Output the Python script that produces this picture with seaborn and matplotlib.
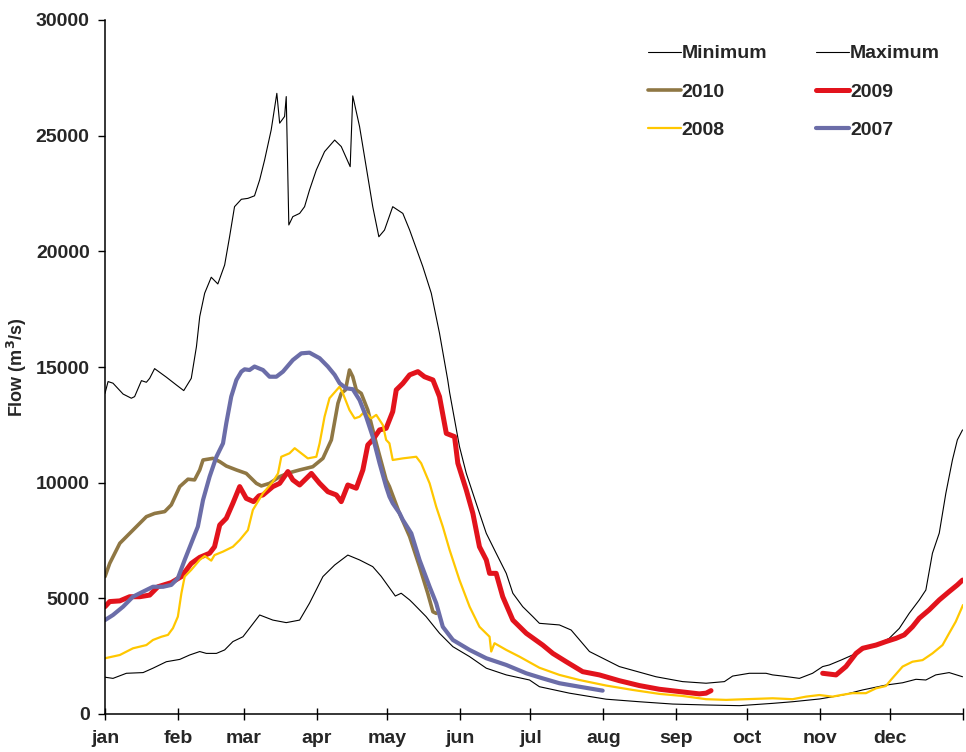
import matplotlib
matplotlib.use("Agg")
import matplotlib.pyplot as plt
from matplotlib.lines import Line2D
import pandas as pd
import seaborn as sns

# Month axis (day of year)
months = ["jan", "feb", "mar", "apr", "may", "jun",
          "jul", "aug", "sep", "oct", "nov", "dec"]
month_starts = [0, 31, 59, 90, 120, 151, 181, 212, 243, 273, 304, 334]

# Daily flow envelope (m3/s)
max_day = [0, 1.3, 3.4, 7.7, 11.2, 12.6, 15.5, 17.6, 19.0, 21.1, 26.1, 30.4, 33.5,
           36.7, 38.9, 40.3, 42.4, 45.2, 48.0, 50.9, 53.0, 55.1, 58.0, 60.8, 63.6,
           65.8, 67.9, 70.7, 73.1, 74.3, 76.4, 77.1, 78.2, 79.9, 82.8, 84.9, 87.0,
           89.9, 93.4, 97.7, 100.5, 104.3, 105.4, 108.3, 111.1, 113.9, 116.5, 118.9,
           122.4, 126.7, 129.6, 135.2, 138.8, 142.3, 145.8, 146.6, 150.8, 153.7,
           157.9, 162.2, 166.4, 170.7, 173.5, 177.7, 182.0, 184.8, 193.3, 198.3,
           206.1, 218.8, 234.4, 245.7, 255.7, 263.5, 267.0, 274.1, 281.2, 284.0,
           288.3, 295.4, 301.0, 305.3, 308.1, 313.1, 318.0, 323.7, 329.4, 333.6,
           337.9, 342.1, 346.4, 349.2, 352.0, 354.9, 357.7, 360.5, 362.6, 364.8]
max_flow = [13860, 14370, 14300, 13830, 13650, 13720, 14410, 14340, 14510, 14930,
            14560, 14220, 13980, 14510, 15880, 17180, 18190, 18880, 18590, 19410,
            20630, 21930, 22250, 22290, 22400, 23090, 23950, 25250, 26830, 25540,
            25830, 26690, 21140, 21500, 21640, 21930, 22650, 23520, 24310, 24810,
            24530, 23660, 26720, 25390, 23660, 21930, 20630, 20920, 21930, 21640,
            20920, 19340, 18190, 16460, 14440, 13900, 11560, 10400, 9110, 7810,
            6950, 6080, 5220, 4640, 4210, 3920, 3850, 3630, 2700, 2050, 1610, 1400,
            1330, 1400, 1640, 1760, 1760, 1690, 1640, 1540, 1760, 2050, 2120, 2330,
            2550, 2840, 3060, 3270, 3700, 4350, 4930, 5360, 6950, 7820, 9540, 10980,
            11850, 12280]

min_day = [0, 3.4, 9.1, 16.2, 20.4, 26.1, 31.8, 36.0, 40.3, 43.1, 47.4, 50.9, 54.4,
           58.7, 61.5, 65.8, 71.4, 77.1, 82.8, 87.0, 92.7, 97.7, 103.3, 108.3, 113.9,
           117.5, 123.5, 126.0, 129.6, 131.0, 136.6, 142.3, 148.0, 155.1, 162.2,
           170.7, 180.6, 184.8, 197.6, 213.2, 227.3, 241.5, 255.7, 269.9, 284.0,
           292.5, 304.0, 313.8, 322.3, 332.2, 339.3, 345.0, 349.2, 353.4, 359.1, 364.8]
min_flow = [1590, 1540, 1760, 1790, 1980, 2260, 2360, 2550, 2700, 2620, 2620, 2770,
            3130, 3340, 3710, 4280, 4060, 3950, 4060, 4790, 5940, 6440, 6870, 6660,
            6370, 5950, 5100, 5220, 4930, 4790, 4210, 3490, 2910, 2480, 1980, 1690,
            1470, 1180, 900, 640, 530, 430, 390, 360, 460, 530, 650, 820, 1040, 1250,
            1350, 1500, 1470, 1690, 1790, 1610]

# Yearly series
y2010_day = [0, 2.0, 6.3, 11.9, 17.6, 21.1, 25.4, 28.2, 31.8, 35.3, 38.1, 40.3, 41.7,
             45.9, 48.8, 51.6, 55.9, 60.1, 64.4, 66.5, 70.0, 74.3, 78.5, 82.8, 88.4,
             92.7, 96.3, 99.1, 100.5, 102.3, 104.0, 105.4, 106.9, 109.0, 111.8, 115.4,
             119.6, 121.0, 125.3, 129.6, 133.8, 137.3, 139.5, 140.9]
y2010_flow = [5940, 6510, 7380, 7950, 8530, 8670, 8750, 9040, 9830, 10150, 10120,
              10550, 10980, 11050, 10910, 10720, 10550, 10400, 9970, 9860, 9970, 10260,
              10430, 10550, 10690, 11050, 11850, 13430, 13860, 14010, 14870, 14580,
              14010, 13860, 13140, 11700, 10120, 9830, 8670, 7670, 6370, 5220, 4420,
              4350]

y2009_day_a = [0, 2.0, 6.3, 10.5, 14.8, 19.0, 22.5, 28.2, 32.5, 36.7, 40.3, 44.5,
               46.6, 48.8, 51.6, 54.4, 57.3, 60.1, 63.2, 65.5, 67.2, 71.4, 74.3, 77.8,
               79.9, 82.8, 87.8, 91.3, 94.8, 98.4, 100.5, 103.3, 106.9, 109.7, 111.8,
               113.9, 116.8, 119.6, 122.4, 123.9, 126.7, 129.6, 133.1, 135.9, 139.5,
               142.3, 145.2, 148.7, 150.1, 153.7, 156.5, 159.3, 162.2, 163.6, 166.4,
               169.2, 173.5, 179.2, 186.2, 190.5, 196.2, 203.2, 210.3, 218.8, 227.3,
               235.8, 244.3, 252.8, 255.7, 257.8]
y2009_flow_a = [4640, 4860, 4890, 5070, 5070, 5140, 5500, 5680, 5940, 6510, 6770,
                6950, 7230, 8170, 8460, 9110, 9830, 9320, 9180, 9430, 9470, 9830, 9970,
                10480, 10120, 9900, 10400, 9970, 9610, 9470, 9180, 9900, 9760, 10550,
                11630, 11850, 12280, 12350, 13070, 14010, 14290, 14660, 14800, 14580,
                14440, 13720, 12130, 11990, 10840, 9680, 8670, 7230, 6660, 6080, 6080,
                5070, 4060, 3490, 2980, 2620, 2260, 1830, 1690, 1440, 1230, 1070, 970,
                870, 900, 1010]
y2009_day_b = [305.3, 311.0, 315.2, 319.5, 322.3, 328.0, 332.2, 336.5, 340.0, 343.5,
               346.4, 350.6, 354.9, 359.1, 362.6, 364.8]
y2009_flow_b = [1760, 1690, 2050, 2620, 2840, 2980, 3130, 3270, 3420, 3770, 4140,
                4500, 4930, 5290, 5580, 5790]

y2008_day = [0, 6.3, 11.9, 17.6, 20.4, 24.0, 26.8, 28.9, 31.0, 32.5, 33.9, 36.7, 40.3,
             42.4, 45.2, 46.6, 50.2, 54.4, 57.3, 60.8, 62.9, 67.2, 71.4, 73.6, 75.0,
             78.5, 80.7, 83.5, 86.3, 89.9, 91.3, 93.4, 95.5, 99.8, 101.2, 104.0, 106.2,
             108.3, 110.4, 113.3, 115.4, 118.2, 119.6, 121.0, 122.4, 126.7, 132.4,
             134.5, 138.1, 140.9, 143.7, 146.6, 150.8, 155.1, 159.3, 163.6, 164.3,
             165.7, 170.7, 176.3, 184.8, 193.3, 201.8, 213.2, 224.5, 235.8, 245.7,
             255.7, 264.2, 272.7, 284.0, 292.5, 298.2, 303.9, 309.5, 313.1, 318.0,
             323.7, 328.0, 332.2, 334.3, 339.3, 343.5, 347.8, 352.0, 356.3, 359.1,
             361.9, 365.0]
y2008_flow = [2410, 2550, 2840, 2980, 3200, 3340, 3420, 3710, 4210, 5220, 5940, 6230,
              6660, 6830, 6630, 6870, 7020, 7230, 7520, 7950, 8820, 9540, 10040, 10400,
              11120, 11270, 11490, 11270, 11050, 11120, 11700, 12850, 13650, 14150,
              13860, 13140, 12780, 12850, 13070, 12780, 12930, 12490, 11850, 11700,
              10980, 11050, 11120, 10840, 9970, 8960, 8100, 7090, 5790, 4640, 3770,
              3340, 2700, 3060, 2770, 2480, 2000, 1690, 1470, 1230, 1040, 870, 780,
              640, 610, 640, 680, 640, 750, 820, 750, 820, 900, 900, 1110, 1210, 1470,
              2050, 2260, 2330, 2620, 2980, 3490, 3990, 4710]

y2007_day = [0, 3.4, 7.7, 11.9, 16.2, 20.4, 24.7, 28.2, 31.0, 33.9, 36.7, 39.5, 41.7,
             44.5, 47.4, 50.2, 51.6, 53.7, 55.9, 58.0, 59.4, 61.5, 63.6, 67.2, 70.0,
             72.9, 75.7, 79.9, 83.5, 87.0, 91.3, 94.8, 97.7, 99.8, 102.6, 105.4, 108.3,
             111.1, 113.9, 116.8, 119.6, 121.0, 122.4, 125.3, 126.7, 130.3, 133.8,
             138.1, 140.9, 143.7, 148.0, 155.1, 162.2, 170.7, 179.2, 186.2, 193.3,
             201.8, 211.7]
y2007_flow = [4060, 4280, 4640, 5070, 5290, 5500, 5500, 5580, 5870, 6660, 7380, 8100,
              9250, 10260, 11120, 11700, 12570, 13720, 14440, 14800, 14900, 14870,
              15020, 14870, 14580, 14580, 14800, 15300, 15590, 15620, 15380, 15020,
              14660, 14300, 14080, 14040, 13570, 12850, 11990, 10840, 9830, 9400, 9110,
              8680, 8390, 7810, 6660, 5500, 4790, 3770, 3200, 2770, 2410, 2120, 1760,
              1540, 1330, 1180, 1010]

# Styles: label -> (colour, line width in pt)
styles = {
    "Minimum": ("#000000", 0.8),
    "Maximum": ("#000000", 0.8),
    "2010": ("#8F7744", 2.6),
    "2009": ("#E2131C", 3.6),
    "2008": ("#FFC700", 1.6),
    "2007": ("#6B6DA8", 3.0),
}

segments = [
    ("Minimum", min_day, min_flow),
    ("Maximum", max_day, max_flow),
    ("2010", y2010_day, y2010_flow),
    ("2009", y2009_day_a, y2009_flow_a),
    ("2009", y2009_day_b, y2009_flow_b),
    ("2008", y2008_day, y2008_flow),
    ("2007", y2007_day, y2007_flow),
]

sns.set_theme(style="white")
plt.rcParams["font.family"] = ["Liberation Sans", "DejaVu Sans"]
plt.rcParams["font.weight"] = "bold"
plt.rcParams["mathtext.default"] = "bf"

fig = plt.figure(figsize=(9.66, 7.52), dpi=100)
ax = fig.add_axes([105 / 966, 1 - 714 / 752, 858 / 966, 694 / 752])

for name, d, f in segments:
    color, lw = styles[name]
    df = pd.DataFrame({"day": d, "flow": f})
    sns.lineplot(data=df, x="day", y="flow", ax=ax, color=color, linewidth=lw,
                 estimator=None, sort=False, legend=False)

ax.set_xlim(0, 365)
ax.set_ylim(0, 30000)
ax.set_yticks(range(0, 30001, 5000))
ax.set_yticklabels([str(v) for v in range(0, 30001, 5000)], fontsize=14,
                   fontweight="bold")
ax.set_xticks(month_starts + [365])
ax.set_xticklabels(months + [""], fontsize=14, fontweight="bold")
ax.tick_params(axis="y", direction="out", length=5, width=1, color="black", pad=6,
               left=True)
ax.tick_params(axis="x", direction="inout", length=9, width=1, color="black", pad=7,
               bottom=True)

for side in ["top", "right"]:
    ax.spines[side].set_visible(False)
for side in ["left", "bottom"]:
    ax.spines[side].set_color("black")
    ax.spines[side].set_linewidth(1.1)

ax.set_xlabel("")
ax.set_ylabel("Flow (m$^3$/s)", fontsize=13, fontweight="bold")
ax.yaxis.set_label_coords(-0.088, 0.5)

order = ["Minimum", "2010", "2008", "Maximum", "2009", "2007"]
handles = [Line2D([], [], color=styles[n][0], linewidth=styles[n][1]) for n in order]
leg = ax.legend(handles, order, ncol=2, frameon=False, loc="upper left",
                bbox_to_anchor=(638 / 966, 1 - 35 / 752),
                bbox_transform=fig.transFigure, fontsize=14, handlelength=1.7,
                handletextpad=0.05, columnspacing=2.5, labelspacing=1.07,
                borderpad=0.0)
for t in leg.get_texts():
    t.set_fontweight("bold")

fig.savefig("out.png", dpi=100)
